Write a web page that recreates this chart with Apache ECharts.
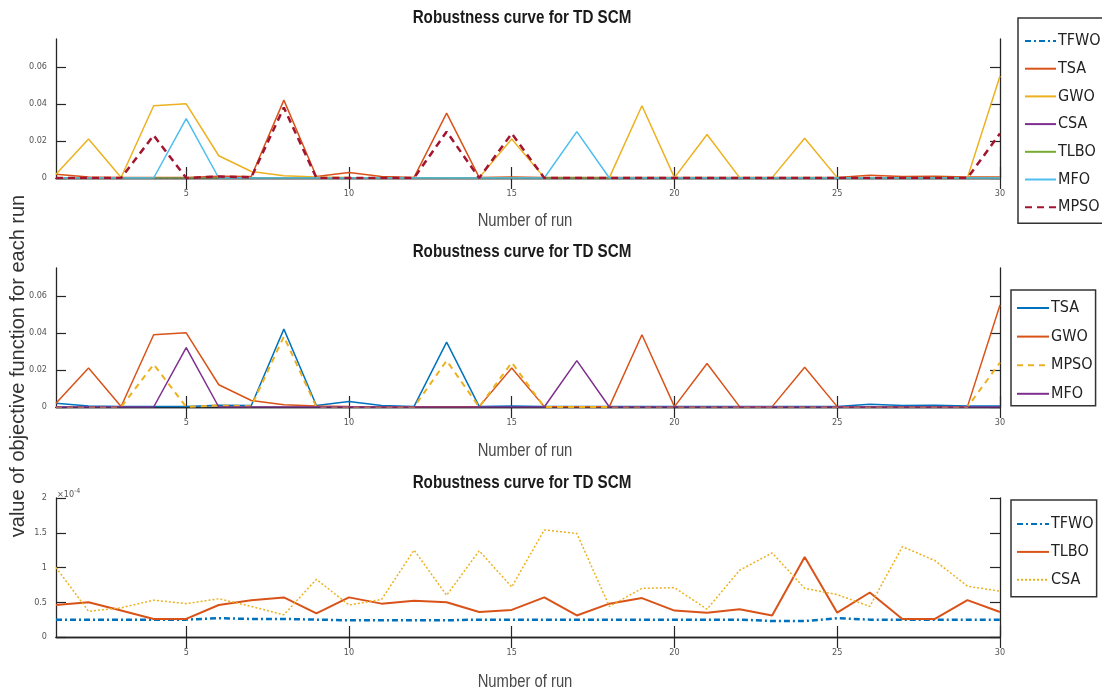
<!DOCTYPE html>
<html><head><meta charset="utf-8">
<script src="https://cdn.jsdelivr.net/npm/echarts@6/dist/echarts.min.js"></script>
<style>html,body{margin:0;padding:0;background:#fff}#c{width:1102px;height:690px}</style>
</head><body><div id="c"></div>
<script>
// ---- data ----
const runs = Array.from({length:30},(_,i)=>i+1);
const xTicks = [5,10,15,20,25,30];
// panel 1 & 2 (raw objective values)
const TSA  = [0.002,0.0005,0.0003,0.0003,0.0003,0.001,0.0008,0.042,0.0008,0.003,0.0008,0.0003,0.035,0.0003,0.0005,0.0003,0.0003,0.0003,0.0003,0.0003,0.0003,0.0003,0.0003,0.0003,0.0003,0.0015,0.0008,0.001,0.0005,0.0005];
const GWO  = [0.002,0.021,0.0003,0.039,0.040,0.012,0.0035,0.0012,0.0005,0.0003,0.0002,0.0002,0.0002,0.0002,0.021,0.0002,0.0002,0.0002,0.039,0.0002,0.0235,0.0002,0.0002,0.0215,0.0002,0.0002,0.0002,0.0002,0.0002,0.055];
const MFO  = [0,0,0,0,0.032,0,0,0,0,0,0,0,0,0,0,0,0.025,0,0,0,0,0,0,0,0,0,0,0,0,0];
const MPSO = [0,0,0,0.023,0,0.0008,0.0004,0.038,0,0,0,0,0.025,0,0.024,0,0,0,0,0,0,0,0,0,0,0,0,0,0,0.024];
// panel 3 values, in units of 1e-4
const TFWO_e4 = [0.25,0.25,0.25,0.25,0.25,0.27,0.26,0.26,0.25,0.24,0.24,0.24,0.24,0.25,0.25,0.25,0.25,0.25,0.25,0.25,0.25,0.25,0.23,0.23,0.27,0.25,0.25,0.25,0.25,0.25];
const TLBO_e4 = [0.46,0.50,0.38,0.26,0.26,0.46,0.53,0.57,0.34,0.57,0.48,0.52,0.50,0.36,0.39,0.57,0.31,0.48,0.56,0.38,0.35,0.40,0.31,1.15,0.35,0.64,0.26,0.26,0.53,0.36];
const CSA_e4  = [1.00,0.37,0.42,0.53,0.48,0.55,0.44,0.32,0.83,0.46,0.54,1.25,0.60,1.24,0.72,1.54,1.49,0.44,0.70,0.71,0.40,0.96,1.21,0.70,0.61,0.44,1.30,1.10,0.73,0.66];
const yTicksTop = [0,0.02,0.04,0.06];
const yTicksBot = [0,0.5,1,1.5,2];
const SCALE = 1e-4;
const TITLE = 'Robustness curve for TD SCM';
const XNAME = 'Number of run';
const YNAME = 'value of objective function for each run';

// ---- styling ----
const FC = "'DejaVu Sans Condensed','Liberation Sans',sans-serif";
const FA = "'Liberation Sans',Arial,sans-serif";
const AX = '#262626';
const pair = arr => arr.map((v,i)=>[runs[i],v]);
const grids = [
  {left:56,width:944,top:39,height:139},
  {left:56,width:944,top:268,height:139},
  {left:56,width:944,top:498,height:139}
];
const xAxes=[], yAxes=[];
grids.forEach((g,gi)=>{
  const base = {type:'value',gridIndex:gi,min:1,max:30,splitLine:{show:false},
    axisLine:{lineStyle:{color:AX,width:1.3}},
    axisTick:{inside:true,length:11,customValues:xTicks,lineStyle:{color:AX,width:1.2}}};
  xAxes.push(Object.assign({},base,{position:'bottom',
    axisLabel:{customValues:xTicks,color:'#555',fontSize:9,fontFamily:FC,margin:11}}));
  xAxes.push(Object.assign({},base,{position:'top',axisLabel:{show:false}}));
  const bottom = gi===2;
  const yt = bottom ? yTicksBot : yTicksTop;
  const ybase = {type:'value',gridIndex:gi,min:0,max:bottom?2:0.075,splitLine:{show:false},
    axisLine:{show:true,lineStyle:{color:AX,width:1.3}},
    axisTick:{show:true,inside:true,length:10,customValues:yt,lineStyle:{color:AX,width:1.2}}};
  yAxes.push(Object.assign({},ybase,{position:'left',
    axisLabel:{customValues:yt,color:'#555',fontSize:9,fontFamily:FC,margin:9,
      formatter:v=>bottom?String(v):(v===0?'0':v.toFixed(2))}}));
  yAxes.push(Object.assign({},ybase,{position:'right',axisLabel:{show:false}}));
});

const C = {blue:'#0072BD',orange:'#D95319',yellow:'#EDB120',purple:'#7E2F8E',green:'#77AC30',cyan:'#4DBEEE',dred:'#A2142F'};
function S(name,data,gi,color,width,type){
  return {name:name,type:'line',xAxisIndex:gi*2,yAxisIndex:gi*2,data:pair(data),
    symbol:'none',showSymbol:false,animation:false,
    lineStyle:{color:color,width:width,type:type||'solid'},itemStyle:{color:color}};
}
const series = [
  S('TFWO#1',TFWO_e4.map(v=>v*SCALE),0,C.blue,2,[6,3,2,3]),
  S('TSA#1',TSA,0,C.orange,1.5),
  S('GWO#1',GWO,0,C.yellow,1.5),
  S('CSA#1',CSA_e4.map(v=>v*SCALE),0,C.purple,1.5),
  S('TLBO#1',TLBO_e4.map(v=>v*SCALE),0,C.green,1.5),
  S('MFO#1',MFO,0,C.cyan,1.5),
  S('MPSO#1',MPSO,0,C.dred,2.5,[7,5]),
  S('TSA#2',TSA,1,C.blue,1.5),
  S('GWO#2',GWO,1,C.orange,1.5),
  S('MPSO#2',MPSO,1,C.yellow,2,[6,5]),
  S('MFO#2',MFO,1,C.purple,1.5),
  S('TFWO#3',TFWO_e4,2,C.blue,2.5,[6,3,2,3]),
  S('TLBO#3',TLBO_e4,2,C.orange,2),
  S('CSA#3',CSA_e4,2,C.yellow,1.5,[2,2])
];
const legBase = {orient:'vertical',backgroundColor:'#fff',borderColor:'#333',borderWidth:1.5,
  itemWidth:32,itemHeight:14,selectedMode:false,
  itemStyle:{opacity:0},
  textStyle:{fontFamily:FC,fontSize:16,color:'#222',padding:[0,0,0,-3]},
  formatter:n=>n.split('#')[0]};
const legends = [
  Object.assign({},legBase,{left:1018,top:18,padding:[15,12,8,6],itemGap:11.7,itemWidth:31,
    data:['TFWO#1','TSA#1','GWO#1','CSA#1','TLBO#1','MFO#1','MPSO#1']}),
  Object.assign({},legBase,{left:1011,top:290,padding:[10,3,4,5],itemGap:12.6,
    data:['TSA#2','GWO#2','MPSO#2','MFO#2']}),
  Object.assign({},legBase,{left:1011,top:500,padding:[16,3,9,5],itemGap:11.9,
    data:['TFWO#3','TLBO#3','CSA#3']})
];

const graphics = [];
[18,252,483].forEach(y=>graphics.push({type:'text',x:522,y:y,scaleX:0.8,silent:true,
  style:{text:TITLE,fontFamily:FA,fontSize:19,fontWeight:'bold',fill:'#1a1a1a',textAlign:'center',textVerticalAlign:'middle'}}));
[221,451,682].forEach(y=>graphics.push({type:'text',x:525,y:y,scaleX:0.78,silent:true,
  style:{text:XNAME,fontFamily:FA,fontSize:19,fill:'#4a4a4a',textAlign:'center',textVerticalAlign:'middle'}}));
graphics.push({type:'text',x:18,y:366,rotation:Math.PI/2,silent:true,
  style:{text:YNAME,fontFamily:FA,fontSize:20,fill:'#333',textAlign:'center',textVerticalAlign:'middle'}});
graphics.push({type:'text',x:57,y:488,silent:true,
  style:{text:'{a|×10}{b|-4}',rich:{a:{fontSize:9,fontFamily:FC,fill:'#555'},b:{fontSize:7,fontFamily:FC,fill:'#555',verticalAlign:'top',padding:[0,0,6,0]}}}});

const chart = echarts.init(document.getElementById('c'),null,{renderer:'canvas'});
chart.setOption({
  animation:false,
  backgroundColor:'#fff',
  grid:grids,
  xAxis:xAxes,
  yAxis:yAxes,
  legend:legends,
  series:series,
  graphic:graphics
});
</script></body></html>
